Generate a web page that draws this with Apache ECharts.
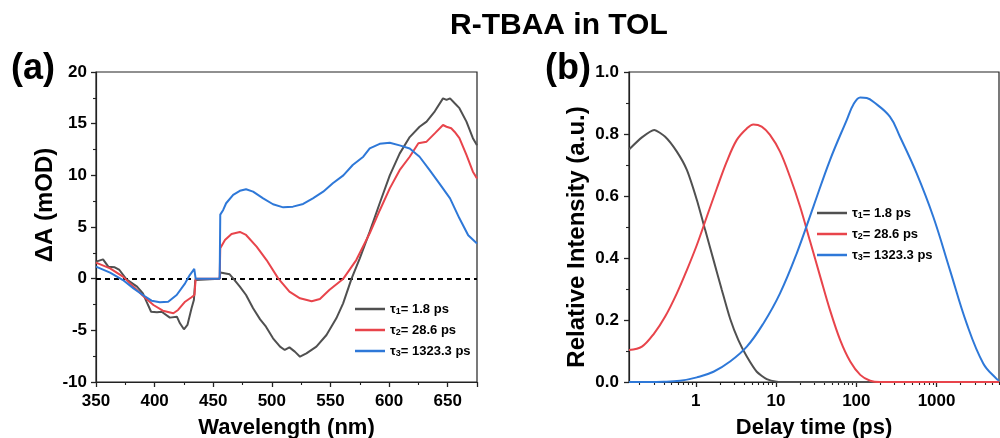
<!DOCTYPE html>
<html>
<head>
<meta charset="utf-8">
<script src="https://cdn.jsdelivr.net/npm/echarts@6/dist/echarts.min.js"></script>
<style>
html,body{margin:0;padding:0;background:#fff;}
#chart{width:1000px;height:438px;}
</style>
</head>
<body>
<div id="chart"></div>
<script>
// ---------- DATA ----------
const tauNames = ['τ1', 'τ2', 'τ3'];
const tauValues = ['1.8', '28.6', '1323.3'];

// (a) decay-associated spectra: wavelength (nm) / ΔA (mOD)
const wlTau1 = [350,356,360.5,366,370,376,385,390,393,397,402,406,413,419,421.6,425,428,431.5,433.5,434.7,435.5,455.5,456,457,464,467,472.7,478,484,490,495,501,507,511,515,519.6,524,529.5,538,546.6,555,560.8,568,575,583.5,592,600.6,609,617.6,626,632,639,646,649,652,656,660,666,671.5,675];
const dATau1 = [1.65,1.87,1.16,1.1,0.84,-0.06,-0.77,-1.42,-2.2,-3.2,-3.26,-3.2,-3.77,-3.68,-4.32,-4.9,-4.48,-2.87,-2.06,-0.13,0,0,0.6,0.65,0.42,0.03,-0.77,-1.58,-2.87,-3.94,-4.65,-5.77,-6.58,-6.9,-6.65,-7.06,-7.55,-7.23,-6.58,-5.45,-3.84,-2.39,0,1.97,4.55,7.3,10.0,12.1,13.7,14.7,15.2,16.2,17.45,17.3,17.45,16.97,16.5,15.2,13.6,12.9];

const wlTau2 = [350,362,373,382,390,399,407,416,420,426,431.5,434,435,455.5,456,460,465.6,472.7,478,487,495.5,505.4,515,524,534,541,549,561,572,583.5,592,600.6,609,617.6,625,632,639,646,649,653,656,660,666,671.5,675];
const dATau2 = [1.55,1.0,0.2,-0.77,-1.65,-2.55,-3.1,-3.35,-3.03,-2.23,-1.8,-1.58,0,0,2.94,3.74,4.32,4.52,4.23,3.1,1.8,0.03,-1.26,-1.9,-2.19,-1.97,-1.1,0,1.8,4.39,6.6,8.74,10.5,11.8,13.1,13.26,14.06,14.87,14.7,14.55,14.2,13.6,11.97,10.35,9.7];

const wlTau3 = [350,362,373,382,390,397.4,404.5,411.6,418.8,426,430,433.8,435,455.5,456,458.5,461,467,472.7,478,484,492.6,501,509.7,518,526.7,535,543.8,552,561,569,578,583.5,592,600.6,609,617.6,626,634.6,643,652,660,667.5,675];
const dATau3 = [1.16,0.58,-0.13,-0.94,-1.58,-2.13,-2.29,-2.23,-1.58,-0.45,0.35,0.94,0,0,6.2,6.65,7.3,8.1,8.5,8.65,8.42,7.77,7.2,6.9,6.97,7.23,7.77,8.42,9.23,10.0,11.0,11.8,12.6,13.05,13.16,12.9,12.6,11.8,10.5,9.2,7.77,5.84,4.2,3.4];

// (b) population kinetics: delay time (ps) / relative intensity
const tTau1 = [0.147,0.213,0.303,0.415,0.58,0.773,1.03,1.31,1.66,2.11,2.67,3.39,4.32,5.75,7.66,10.2,15,6000];
const pTau1 = [0.75,0.789,0.813,0.791,0.743,0.684,0.587,0.49,0.394,0.297,0.205,0.135,0.082,0.033,0.009,0.001,0,0];

const tTau2 = [0.147,0.213,0.303,0.415,0.58,0.773,1.03,1.37,1.83,2.43,3.24,4.32,5.22,6.62,8.4,11.2,14.9,19.9,26.6,35.5,47,63,84,112,149,199,6000];
const pTau2 = [0.103,0.114,0.157,0.211,0.286,0.361,0.442,0.533,0.625,0.711,0.781,0.818,0.831,0.824,0.797,0.743,0.662,0.566,0.453,0.34,0.232,0.135,0.066,0.023,0.004,0,0];

const tTau3 = [0.147,0.395,0.637,1.03,1.66,2.67,4.32,6.95,11.2,18.1,29.2,47,75.9,92,112,135,163,262,350,565,910,1469,2371,3820,5600,6000];
const pTau3 = [0,0.001,0.004,0.015,0.033,0.066,0.114,0.189,0.286,0.415,0.566,0.716,0.845,0.895,0.918,0.916,0.904,0.856,0.791,0.673,0.533,0.361,0.189,0.06,0.01,0.005];

const logMajorTicks = [1, 10, 100, 1000];
const logMinorTicks = [0.2,0.3,0.4,0.5,0.6,0.7,0.8,0.9,2,3,4,5,6,7,8,9,20,30,40,50,60,70,80,90,200,300,400,500,600,700,800,900,2000,3000,4000,5000,6000];

// ---------- STYLE ----------
const FONT = '"Liberation Sans", Arial, Helvetica, sans-serif';
const AX = '#222';
const colors = ['#505050', '#e8444b', '#2e78d8'];
const pairs = (xs, ys) => xs.map((x, i) => [x, ys[i]]);

const tickLabel = {fontFamily: FONT, fontSize: 17, fontWeight: 'bold', color: '#000'};
const nameStyle = {fontFamily: FONT, fontSize: 22, fontWeight: 'bold', color: '#000'};
const axisLineStyle = {show: true, onZero: false, lineStyle: {color: AX, width: 1.2}};
const majorTick = {show: true, length: 5, lineStyle: {color: AX, width: 1.3}};
const minorTickStyle = {show: true, splitNumber: 2, length: 3, lineStyle: {color: AX, width: 1.1}};

function legendFmt(name) {
  const i = tauNames.indexOf(name);
  return '{t|τ}{s|' + (i + 1) + '}{t|= ' + tauValues[i] + ' ps}';
}
const legendText = {
  fontFamily: FONT, fontSize: 13, fontWeight: 'bold', color: '#000', lineHeight: 16,
  rich: {
    t: {fontFamily: FONT, fontSize: 13, fontWeight: 'bold', color: '#000'},
    s: {fontFamily: FONT, fontSize: 9, fontWeight: 'bold', color: '#000', padding: [6, 0, 0, 0]}
  }
};

const chart = echarts.init(document.getElementById('chart'), null, {renderer: 'canvas'});

function lineSeries(name, xi, yi, data, color, z, smooth) {
  return {
    name: name, type: 'line', xAxisIndex: xi, yAxisIndex: yi, data: data,
    showSymbol: false, symbol: 'none', color: color, smooth: smooth,
    lineStyle: {width: 2, color: color}, z: z
  };
}

const s0 = lineSeries(tauNames[0], 0, 0, pairs(wlTau1, dATau1), colors[0], 3, false);
s0.markLine = {
  silent: true, symbol: 'none', label: {show: false}, animation: false,
  lineStyle: {color: '#000', type: [5, 4], width: 2}, data: [{yAxis: 0}], z: 2
};

const option = {
  animation: false,
  backgroundColor: '#fff',
  title: [
    {text: 'R-TBAA in TOL', left: 445, top: 6, textStyle: {fontFamily: FONT, fontSize: 30, fontWeight: 'bold', color: '#000'}},
    {text: '(a)', left: 6, top: 46, textStyle: {fontFamily: FONT, fontSize: 36, fontWeight: 'bold', color: '#000'}},
    {text: '(b)', left: 540, top: 46, textStyle: {fontFamily: FONT, fontSize: 36, fontWeight: 'bold', color: '#000'}}
  ],
  grid: [
    {left: 96, top: 72, width: 381, height: 310, show: true, borderColor: AX, borderWidth: 1.2,
      backgroundColor: 'transparent', containLabel: false, outerBoundsMode: 'none'},
    {left: 629, top: 72, width: 370, height: 310, show: true, borderColor: AX, borderWidth: 1.2,
      backgroundColor: 'transparent', containLabel: false, outerBoundsMode: 'none'}
  ],
  legend: [
    {
      data: tauNames, left: 355, top: 301, orient: 'vertical', itemWidth: 30, itemHeight: 2.5,
      itemGap: 5, icon: 'rect', formatter: legendFmt, textStyle: legendText, selectedMode: false,
      padding: 0
    },
    {
      data: tauNames, left: 817, top: 205, orient: 'vertical', itemWidth: 30, itemHeight: 2.5,
      itemGap: 5, icon: 'rect', formatter: legendFmt, textStyle: legendText, selectedMode: false,
      padding: 0
    }
  ],
  xAxis: [
    {
      gridIndex: 0, type: 'value', min: 350, max: 675, interval: 50,
      name: 'Wavelength (nm)', nameLocation: 'middle', nameGap: 35, nameTextStyle: nameStyle,
      axisLine: axisLineStyle,
      axisTick: majorTick,
      minorTick: minorTickStyle,
      axisLabel: Object.assign({margin: 11, showMaxLabel: false}, tickLabel),
      splitLine: {show: false}, minorSplitLine: {show: false}
    },
    {
      gridIndex: 1, type: 'log', min: 0.147, max: 6000, logBase: 10,
      name: 'Delay time (ps)', nameLocation: 'middle', nameGap: 35, nameTextStyle: nameStyle,
      axisLine: axisLineStyle,
      axisTick: Object.assign({customValues: logMajorTicks}, majorTick),
      axisLabel: Object.assign({margin: 11, customValues: logMajorTicks, formatter: v => String(Math.round(v))}, tickLabel),
      splitLine: {show: false}
    },
    {
      gridIndex: 1, type: 'log', min: 0.147, max: 6000, logBase: 10, position: 'bottom',
      axisLine: {show: false, onZero: false},
      axisTick: {show: true, length: 3, customValues: logMinorTicks, lineStyle: {color: AX, width: 1.1}},
      axisLabel: {show: false},
      splitLine: {show: false}
    }
  ],
  yAxis: [
    {
      gridIndex: 0, type: 'value', min: -10, max: 20, interval: 5,
      name: 'ΔA (mOD)', nameLocation: 'middle', nameGap: 39,
      nameTextStyle: Object.assign({}, nameStyle, {fontSize: 24, padding: [0, 0, 0, 44]}),
      axisLine: axisLineStyle,
      axisTick: majorTick,
      minorTick: minorTickStyle,
      axisLabel: Object.assign({margin: 9}, tickLabel),
      splitLine: {show: false}, minorSplitLine: {show: false}
    },
    {
      gridIndex: 1, type: 'value', min: 0, max: 1, interval: 0.2,
      name: 'Relative Intensity (a.u.)', nameLocation: 'middle', nameGap: 40,
      nameTextStyle: Object.assign({}, nameStyle, {fontSize: 24, padding: [0, 20, 0, 0]}),
      axisLine: axisLineStyle,
      axisTick: majorTick,
      minorTick: minorTickStyle,
      axisLabel: Object.assign({margin: 10, formatter: v => v.toFixed(1)}, tickLabel),
      splitLine: {show: false}, minorSplitLine: {show: false}
    }
  ],
  series: [
    s0,
    lineSeries(tauNames[1], 0, 0, pairs(wlTau2, dATau2), colors[1], 4, false),
    lineSeries(tauNames[2], 0, 0, pairs(wlTau3, dATau3), colors[2], 5, false),
    lineSeries(tauNames[0], 1, 1, pairs(tTau1, pTau1), colors[0], 3, 0.2),
    lineSeries(tauNames[1], 1, 1, pairs(tTau2, pTau2), colors[1], 4, 0.35),
    lineSeries(tauNames[2], 1, 1, pairs(tTau3, pTau3), colors[2], 5, 0.4)
  ]
};
chart.setOption(option);
</script>
</body>
</html>
